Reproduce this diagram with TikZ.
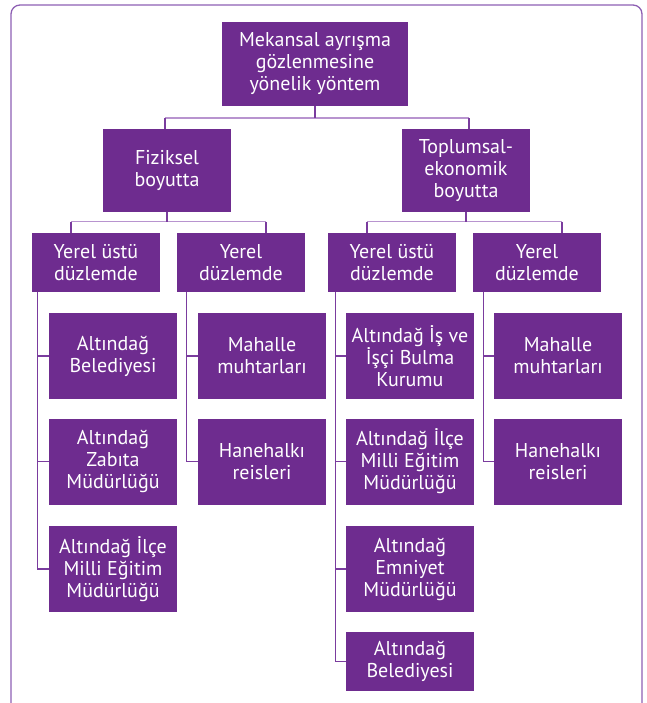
\documentclass[tikz,border=0pt]{standalone}
\usepackage{fontspec}
\setmainfont{PT Sans}
\definecolor{boxpurple}{HTML}{6E2C8F}
\definecolor{linepurple}{HTML}{7A3C9E}
\definecolor{barpurple}{HTML}{B894CF}
\definecolor{framepurple}{HTML}{8D5FB3}
\begin{document}
\begin{tikzpicture}[x=1pt,y=-1pt,
  pbox/.style={rectangle, fill=boxpurple, text=white, align=center, inner sep=0pt,
    minimum width=128pt, font=\fontsize{20}{22}\selectfont},
  hsmall/.style={minimum height=59pt},
  hbig/.style={minimum height=86pt},
  conn/.style={draw=linepurple, line width=1.1pt},
  bar/.style={draw=barpurple, line width=1.4pt}]
\useasboundingbox (0,0) rectangle (646,703);
\draw[framepurple, line width=1.3pt, rounded corners=9pt] (11,712) -- (11,5) -- (642,5) -- (642,712);

\node[pbox, minimum width=186pt, minimum height=84pt] (top) at (315,64) {Mekansal ayrışma\\gözlenmesine\\yönelik yöntem};
\node[pbox, minimum height=83pt] (fiz) at (167,170.5) {Fiziksel\\boyutta};
\node[pbox, minimum height=83pt] (tpl) at (466,170.5) {Toplumsal-\\ekonomik\\boyutta};

\node[pbox, hsmall] (ly1) at (96,262.5) {Yerel üstü\\düzlemde};
\node[pbox, hsmall] (ly2) at (241,262.5) {Yerel\\düzlemde};
\node[pbox, hsmall] (ry1) at (392,262.5) {Yerel üstü\\düzlemde};
\node[pbox, hsmall] (ry2) at (537,262.5) {Yerel\\düzlemde};

\node[pbox, hbig] (a1) at (113,356) {Altındağ\\Belediyesi};
\node[pbox, hbig] (a2) at (113,461.5) {Altındağ\\Zabıta\\Müdürlüğü};
\node[pbox, hbig] (a3) at (113,569) {Altındağ İlçe\\Milli Eğitim\\Müdürlüğü};

\node[pbox, hbig] (b1) at (262,356) {Mahalle\\muhtarları};
\node[pbox, hbig] (b2) at (262,461.5) {Hanehalkı\\reisleri};

\node[pbox, hbig] (c1) at (410,356) {Altındağ İş ve\\İşçi Bulma\\Kurumu};
\node[pbox, hbig] (c2) at (410,461.5) {Altındağ İlçe\\Milli Eğitim\\Müdürlüğü};
\node[pbox, hbig] (c3) at (410,569) {Altındağ\\Emniyet\\Müdürlüğü};
\node[pbox, hsmall] (c4) at (410,661.5) {Altındağ\\Belediyesi};

\node[pbox, hbig] (d1) at (558,356) {Mahalle\\muhtarları};
\node[pbox, hbig] (d2) at (558,461.5) {Hanehalkı\\reisleri};

% junction points
\path (top.south) ++(-150,12) coordinate (t1) ++(304,0) coordinate (t2);
\path ([xshift=-25pt]ly1.north) ++(0,-11) coordinate (f1);
\path ([xshift=25pt]ly2.north) ++(0,-11) coordinate (f2);
\path ([xshift=-25pt]ry1.north) ++(0,-11) coordinate (s1);
\path ([xshift=25pt]ry2.north) ++(0,-11) coordinate (s2);

% level 1
\draw[bar] (t1) -- (t2);
\draw[conn] (top.south) -- (top.south |- t1);
\draw[conn] (t1) -- (t1 |- fiz.north);
\draw[conn] (t2) -- (t2 |- tpl.north);

% level 2
\draw[bar] (f1) -- (f2);
\draw[conn] (fiz.south) -- (fiz.south |- f1);
\draw[conn] (f1) -- (f1 |- ly1.north);
\draw[conn] (f2) -- (f2 |- ly2.north);

\draw[bar] (s1) -- (s2);
\draw[conn] (tpl.south) -- (tpl.south |- s1);
\draw[conn] (s1) -- (s1 |- ry1.north);
\draw[conn] (s2) -- (s2 |- ry2.north);

% level 3
\draw[conn] ([xshift=6pt]ly1.south west) |- (a1.west);
\draw[conn] ([xshift=6pt]ly1.south west) |- (a2.west);
\draw[conn] ([xshift=6pt]ly1.south west) |- (a3.west);

\draw[conn] ([xshift=10pt]ly2.south west) |- (b1.west);
\draw[conn] ([xshift=10pt]ly2.south west) |- (b2.west);

\draw[conn] ([xshift=8pt]ry1.south west) |- (c1.west);
\draw[conn] ([xshift=8pt]ry1.south west) |- (c2.west);
\draw[conn] ([xshift=8pt]ry1.south west) |- (c3.west);
\draw[conn] ([xshift=8pt]ry1.south west) |- (c4.west);

\draw[conn] ([xshift=11pt]ry2.south west) |- (d1.west);
\draw[conn] ([xshift=11pt]ry2.south west) |- (d2.west);
\end{tikzpicture}
\end{document}
